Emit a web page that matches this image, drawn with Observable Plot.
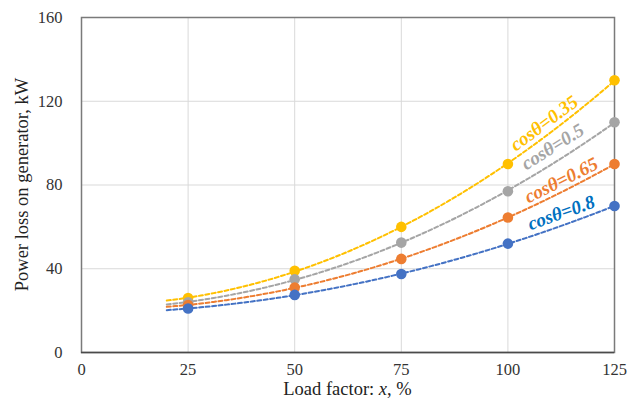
<!DOCTYPE html>
<html>
<head>
<meta charset="utf-8">
<script src="https://cdn.jsdelivr.net/npm/d3@7"></script>
<script src="https://cdn.jsdelivr.net/npm/@observablehq/plot@0.6"></script>
<style>
  html, body { margin: 0; padding: 0; background: #fff; }
  #chart svg { display: block; }
</style>
</head>
<body>
<div id="chart"></div>
<script>
// Load factor (%) at which the generator losses were evaluated
const loadFactor = [25, 50, 75, 100, 125];

// Power loss on generator (kW) for each power factor
const powerFactors = ["0.35", "0.5", "0.65", "0.8"];
const loss035 = [26, 39, 60, 90, 130];
const loss05 = [24, 35, 52.5, 77, 110];
const loss065 = [22.7, 31, 44.7, 64.5, 90];
const loss08 = [21, 27.5, 37.5, 52, 70];

const xTicks = [0, 25, 50, 75, 100, 125];
const yTicks = [0, 40, 80, 120, 160];

// Styling per series
const seriesColors = ["#FFC000", "#A5A5A5", "#ED7D31", "#4472C4"];
const labelColors = ["#FFC000", "#A5A5A5", "#ED7D31", "#0070C0"];
// Where along each trendline its label sits, and how far above the line
const labelAt = [108.5, 110.5, 112.5, 112.5];
const labelLift = [-14, -17, -12, -13];

const serif = "'Liberation Serif', 'Times New Roman', serif";

const lossSeries = [loss035, loss05, loss065, loss08];

const points = [];
lossSeries.forEach((ys, i) => {
  ys.forEach((y, j) => points.push({pf: powerFactors[i], x: loadFactor[j], y}));
});

// Second-order polynomial least-squares trendline
function quadFit(xs, ys) {
  let s = [0, 0, 0, 0, 0], t = [0, 0, 0];
  xs.forEach((x, k) => {
    for (let p = 0; p <= 4; p++) s[p] += Math.pow(x, p);
    for (let p = 0; p <= 2; p++) t[p] += ys[k] * Math.pow(x, p);
  });
  const A = [[s[0], s[1], s[2], t[0]], [s[1], s[2], s[3], t[1]], [s[2], s[3], s[4], t[2]]];
  for (let c = 0; c < 3; c++) {
    for (let r = c + 1; r < 3; r++) {
      const f = A[r][c] / A[c][c];
      for (let k = c; k < 4; k++) A[r][k] -= f * A[c][k];
    }
  }
  const b = [0, 0, 0];
  for (let r = 2; r >= 0; r--) {
    let v = A[r][3];
    for (let k = r + 1; k < 3; k++) v -= A[r][k] * b[k];
    b[r] = v / A[r][r];
  }
  return x => b[0] + b[1] * x + b[2] * x * x;
}

const fits = lossSeries.map(ys => quadFit(loadFactor, ys));
const trend = [];
fits.forEach((f, i) => {
  for (let x = 20; x <= 125; x += 1) trend.push({pf: powerFactors[i], x, y: f(x)});
});

const width = 642, height = 407;
const margin = {top: 17, right: 28, bottom: 55, left: 81};
const kx = (width - margin.left - margin.right) / 125;
const ky = (height - margin.top - margin.bottom) / 160;

const labelMarks = powerFactors.map((pf, i) => {
  const x0 = labelAt[i];
  const f = fits[i];
  const slope = (f(x0 + 0.5) - f(x0 - 0.5)) * ky / kx;
  const angle = -Math.atan(slope) * 180 / Math.PI;
  return Plot.text([{x: x0, y: f(x0)}], {
    x: "x", y: "y",
    text: () => `cosθ=${pf}`,
    rotate: angle,
    dy: labelLift[i],
    fill: labelColors[i],
    fontSize: 19,
    fontWeight: "bold",
    fontStyle: "italic",
    fontFamily: serif,
    textAnchor: "middle"
  });
});

const plot = Plot.plot({
  width, height,
  marginTop: margin.top, marginRight: margin.right,
  marginBottom: margin.bottom, marginLeft: margin.left,
  style: {fontFamily: serif, background: "#fff"},
  x: {domain: [0, 125]},
  y: {domain: [0, 160]},
  color: {domain: powerFactors, range: seriesColors},
  marks: [
    Plot.gridY([40, 80, 120], {stroke: "#d9d9d9", strokeOpacity: 1}),
    Plot.gridX([25, 50, 75, 100], {stroke: "#d9d9d9", strokeOpacity: 1}),
    Plot.frame({stroke: "#7a7a7a", strokeWidth: 1.5}),
    Plot.ruleY([0], {stroke: "#4a4a4a", strokeWidth: 1.5}),
    Plot.axisX(xTicks, {tickSize: 0, tickPadding: 11, fontSize: 16.5, fill: "#333", label: null}),
    Plot.axisY(yTicks, {tickSize: 0, tickPadding: 19, fontSize: 16.5, fill: "#333", label: null}),
    Plot.line(trend, {x: "x", y: "y", z: "pf", stroke: "pf", strokeWidth: 2, strokeDasharray: "4,2.5"}),
    Plot.dot(points, {x: "x", y: "y", fill: "pf", r: 5.3}),
    ...labelMarks
  ]
});

const svg = d3.select(plot);
// Axis titles
svg.append("text")
  .attr("transform", `translate(22,${(margin.top + height - margin.bottom) / 2}) rotate(-90)`)
  .attr("text-anchor", "middle")
  .attr("dominant-baseline", "central")
  .attr("font-family", serif)
  .attr("font-size", 18.5)
  .attr("fill", "#222")
  .text("Power loss on generator, kW");

const xt = svg.append("text")
  .attr("x", (margin.left + width - margin.right) / 2)
  .attr("y", 395)
  .attr("text-anchor", "middle")
  .attr("font-family", serif)
  .attr("font-size", 18.5)
  .attr("fill", "#222");
xt.append("tspan").text("Load factor: ");
xt.append("tspan").attr("font-style", "italic").text("x");
xt.append("tspan").text(", %");

document.getElementById("chart").appendChild(plot);
</script>
</body>
</html>
